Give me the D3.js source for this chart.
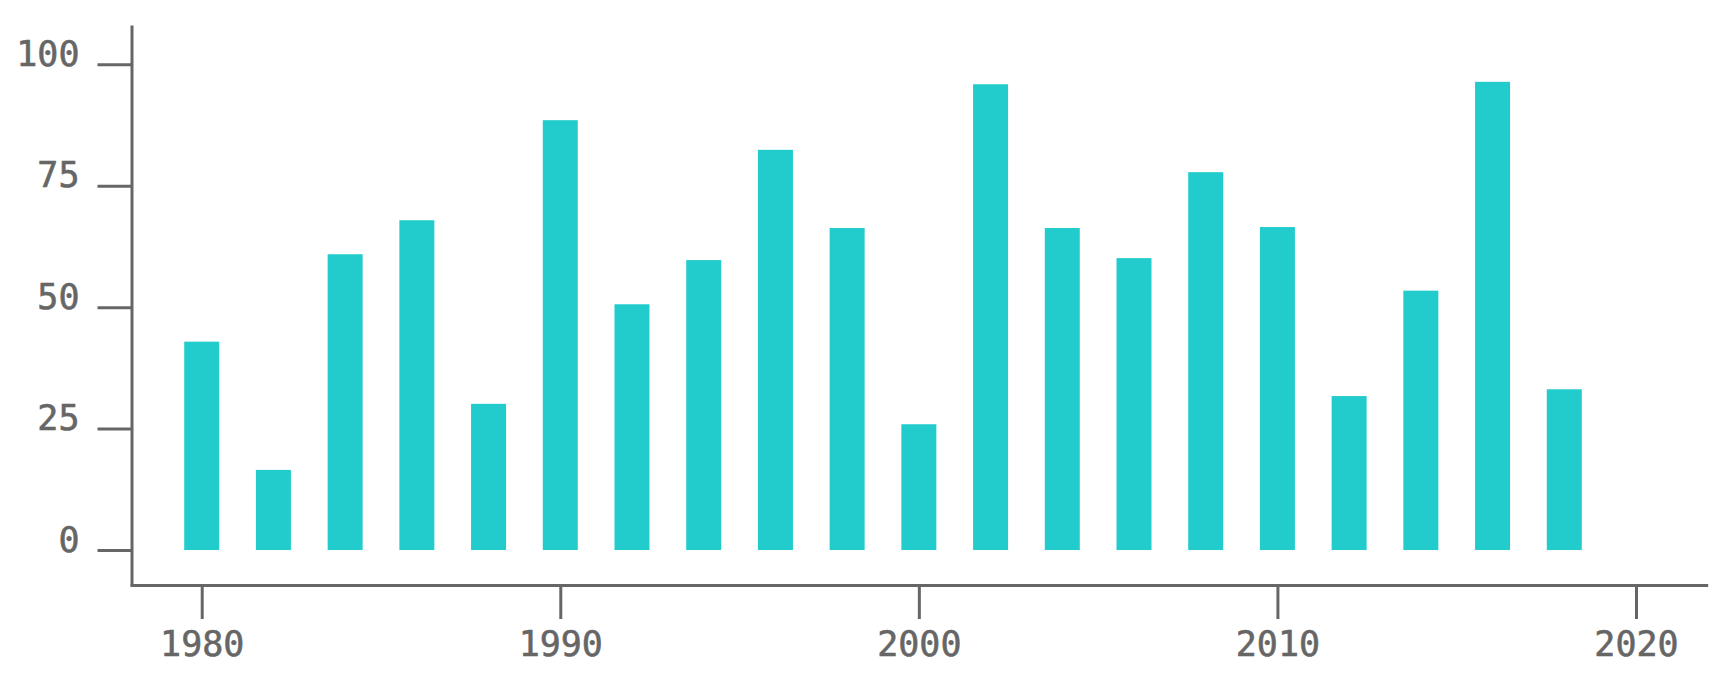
<!DOCTYPE html>
<html>
<head>
<meta charset="utf-8">
<script src="https://cdn.jsdelivr.net/npm/d3@7"></script>
<style>
  html, body { margin: 0; padding: 0; background: #fff; }
  svg { display: block; }
</style>
</head>
<body>
<svg id="chart" width="1732" height="682"></svg>
<script>
const years  = [1980, 1982, 1984, 1986, 1988, 1990, 1992, 1994, 1996, 1998,
                2000, 2002, 2004, 2006, 2008, 2010, 2012, 2014, 2016, 2018];
const values = [42.9, 16.5, 60.9, 67.9, 30.1, 88.5, 50.6, 59.7, 82.4, 66.3,
                25.9, 95.9, 66.3, 60.1, 77.8, 66.5, 31.7, 53.4, 96.4, 33.1];
const yTickValues = [0, 25, 50, 75, 100];
const xTickValues = [1980, 1990, 2000, 2010, 2020];

const svg = d3.select("#chart");
const axisColor = "#666666";
const fontFamily = "'DejaVu Sans Mono', 'Liberation Mono', monospace";

const x = d3.scaleLinear().domain([1978, 2022]).range([130, 1707.7]);
const y = d3.scaleLinear().domain([-7.2, 108.1]).range([585, 25]);

const barWidth = 35;

svg.append("g")
  .selectAll("rect")
  .data(years.map((yr, i) => ({ year: yr, value: values[i] })))
  .join("rect")
  .attr("x", d => x(d.year) - barWidth / 2)
  .attr("width", barWidth)
  .attr("y", d => y(d.value))
  .attr("height", d => y(0) - y(d.value))
  .attr("fill", "#22cccc");

// Y axis
const gy = svg.append("g")
  .attr("transform", "translate(131.5,0)")
  .call(d3.axisLeft(y).tickValues(yTickValues).tickFormat(d3.format("d"))
        .tickSize(34).tickSizeOuter(0).tickPadding(18));

// X axis
const gx = svg.append("g")
  .attr("transform", "translate(0,585)")
  .call(d3.axisBottom(x).tickValues(xTickValues).tickFormat(d3.format("d"))
        .tickSize(34).tickSizeOuter(0));

[gy, gx].forEach(g => {
  g.select(".domain").attr("stroke", axisColor).attr("stroke-width", 3);
  g.selectAll(".tick line").attr("stroke", axisColor).attr("stroke-width", 3);
  g.selectAll(".tick text")
    .attr("fill", axisColor)
    .attr("stroke", axisColor)
    .attr("stroke-width", 0.6)
    .style("font-family", fontFamily)
    .style("font-size", "35px");
});

gy.selectAll(".tick text").attr("dy", "0.03em");
gx.selectAll(".tick text").attr("y", 71).attr("dy", 0);
</script>
</body>
</html>
